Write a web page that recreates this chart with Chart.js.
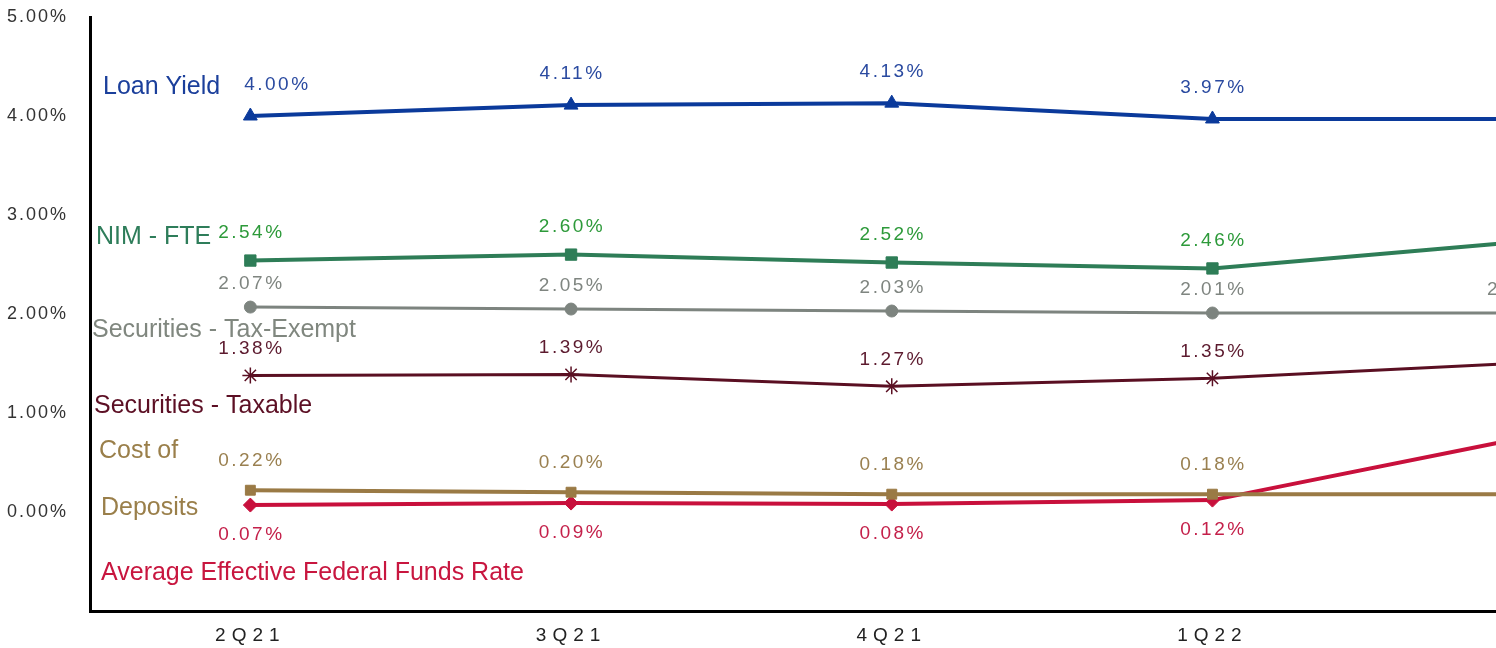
<!DOCTYPE html>
<html>
<head>
<meta charset="utf-8">
<script src="https://cdn.jsdelivr.net/npm/chart.js@4.4.1/dist/chart.umd.min.js"></script>
<style>
  html, body { margin: 0; padding: 0; background: #fff; overflow: hidden; }
  #wrap { position: relative; width: 1703px; height: 648px; }
</style>
</head>
<body>
<div id="wrap"><canvas id="rates"></canvas></div>
<script>
'use strict'

// quarters (the last one runs off the right edge in the reference)
const quarters = ['2Q21', '3Q21', '4Q21', '1Q22', '2Q22']

// series values, in percent
const loanYield = [4.00, 4.11, 4.13, 3.97, 3.97]
const nimFte = [2.54, 2.60, 2.52, 2.46, 2.74]
const secTaxExempt = [2.07, 2.05, 2.03, 2.01, 2.01]
const secTaxable = [1.38, 1.39, 1.27, 1.35, 1.51]
const costOfDeposits = [0.22, 0.20, 0.18, 0.18, 0.18]
const fedFunds = [0.07, 0.09, 0.08, 0.12, 0.77]

// y axis ticks
const yMin = -1
const yMax = 5
const yStep = 1

const pct = v => v.toFixed(2) + '%'

// series names written inside the plot, next to the lines
const seriesNames = [
    {text: 'Loan Yield', color: '#1b3f9b', dx: 13, at: 4.29},
    {text: 'NIM - FTE', color: '#2e7d5a', dx: 6, at: 2.78},
    {text: 'Securities - Tax-Exempt', color: '#80877f', dx: 2, at: 1.84},
    {text: 'Securities - Taxable', color: '#5c0f24', dx: 4, at: 1.07},
    {text: 'Cost of', color: '#9a7f4a', dx: 9, at: 0.615},
    {text: 'Deposits', color: '#9a7f4a', dx: 11, at: 0.04},
    {text: 'Average Effective Federal Funds Rate', color: '#c8163f', dx: 11, at: -0.615}
]

function line(label, data, color, textColor, style, radius, width, labelDy) {
    return {
        label: label,
        data: data,
        borderColor: color,
        backgroundColor: color,
        borderWidth: width,
        pointStyle: style,
        pointRadius: radius,
        pointBorderWidth: style === 'star' ? 1.5 : 1,
        pointBorderColor: color,
        pointBackgroundColor: color,
        tension: 0,
        labelColor: textColor,
        labelDy: labelDy
    }
}

const datasets = [
    line('Loan Yield', loanYield, '#0b3a9b', '#2a4aa0', 'triangle', 8, 4, -31),
    line('NIM - FTE', nimFte, '#2e7d57', '#2d9a3a', 'rect', 8, 4, -28),
    line('Securities - Tax-Exempt', secTaxExempt, '#7d847f', '#7f8580', 'circle', 6, 3, -23),
    line('Securities - Taxable', secTaxable, '#5a0f22', '#5c1a2e', 'star', 8, 3, -27),
    line('Cost of Deposits', costOfDeposits, '#9a7a45', '#9a8050', 'rect', 7, 4, -29),
    line('Average Effective Federal Funds Rate', fedFunds, '#c8103c', '#c4204a', 'rectRot', 7, 4, 30)
]
// small nudges for a couple of value labels
datasets[0].labelDx = [26, 0, 0, 0, 0]
datasets[2].labelDx = [0, 0, 0, 0, -14]

const textPlugin = {
    id: 'textPlugin',
    beforeDraw(chart) {
        chart.ctx.letterSpacing = '2px'
    },
    beforeDatasetsDraw(chart) {
        chart.ctx.letterSpacing = '0px'
    },
    afterDatasetsDraw(chart) {
        chart.ctx.letterSpacing = '6px'
    },
    afterDraw(chart) {
        const ctx = chart.ctx
        const area = chart.chartArea
        const yScale = chart.scales.y
        ctx.save()
        ctx.textAlign = 'center'
        ctx.textBaseline = 'middle'
        ctx.letterSpacing = '2.5px'
        ctx.font = '19px "Liberation Sans", Arial, sans-serif'
        chart.data.datasets.forEach((ds, i) => {
            const meta = chart.getDatasetMeta(i)
            ctx.fillStyle = ds.labelColor
            meta.data.forEach((pt, j) => {
                const dx = ds.labelDx ? ds.labelDx[j] : 0
                ctx.fillText(pct(ds.data[j]), pt.x + dx + 1, pt.y + ds.labelDy)
            })
        })
        ctx.textAlign = 'left'
        ctx.letterSpacing = '0px'
        ctx.font = '25px "Liberation Sans", Arial, sans-serif'
        for (const s of seriesNames) {
            ctx.fillStyle = s.color
            ctx.fillText(s.text, area.left + s.dx, yScale.getPixelForValue(s.at))
        }
        ctx.restore()
        ctx.letterSpacing = '0px'
    }
}

const ctx = document.getElementById('rates')

new Chart(ctx, {
    type: 'line',
    data: {labels: quarters, datasets: datasets},
    options: {
        responsive: true,
        maintainAspectRatio: false,
        animation: false,
        layout: {padding: {top: 17, left: 0, right: 0, bottom: 0}},
        plugins: {
            legend: {display: false},
            tooltip: {enabled: false}
        },
        scales: {
            x: {
                offset: true,
                grid: {display: false},
                border: {display: true, color: '#000', width: 3},
                ticks: {
                    z: 1,
                    padding: 5,
                    color: '#222',
                    font: {family: '"Liberation Sans", Arial, sans-serif', size: 19}
                },
                afterFit: scale => { scale.height = 37 }
            },
            y: {
                min: yMin,
                max: yMax,
                grid: {display: false},
                border: {display: true, color: '#000', width: 3},
                ticks: {
                    stepSize: yStep,
                    padding: 14,
                    color: '#333',
                    font: {family: '"Liberation Sans", Arial, sans-serif', size: 18},
                    callback: v => v < 0 ? '' : pct(v)
                },
                afterFit: scale => {
                    scale.width = 90
                    scale.paddingTop = 0
                    scale.paddingBottom = 0
                }
            }
        }
    },
    plugins: [textPlugin]
})
</script>
</body>
</html>
